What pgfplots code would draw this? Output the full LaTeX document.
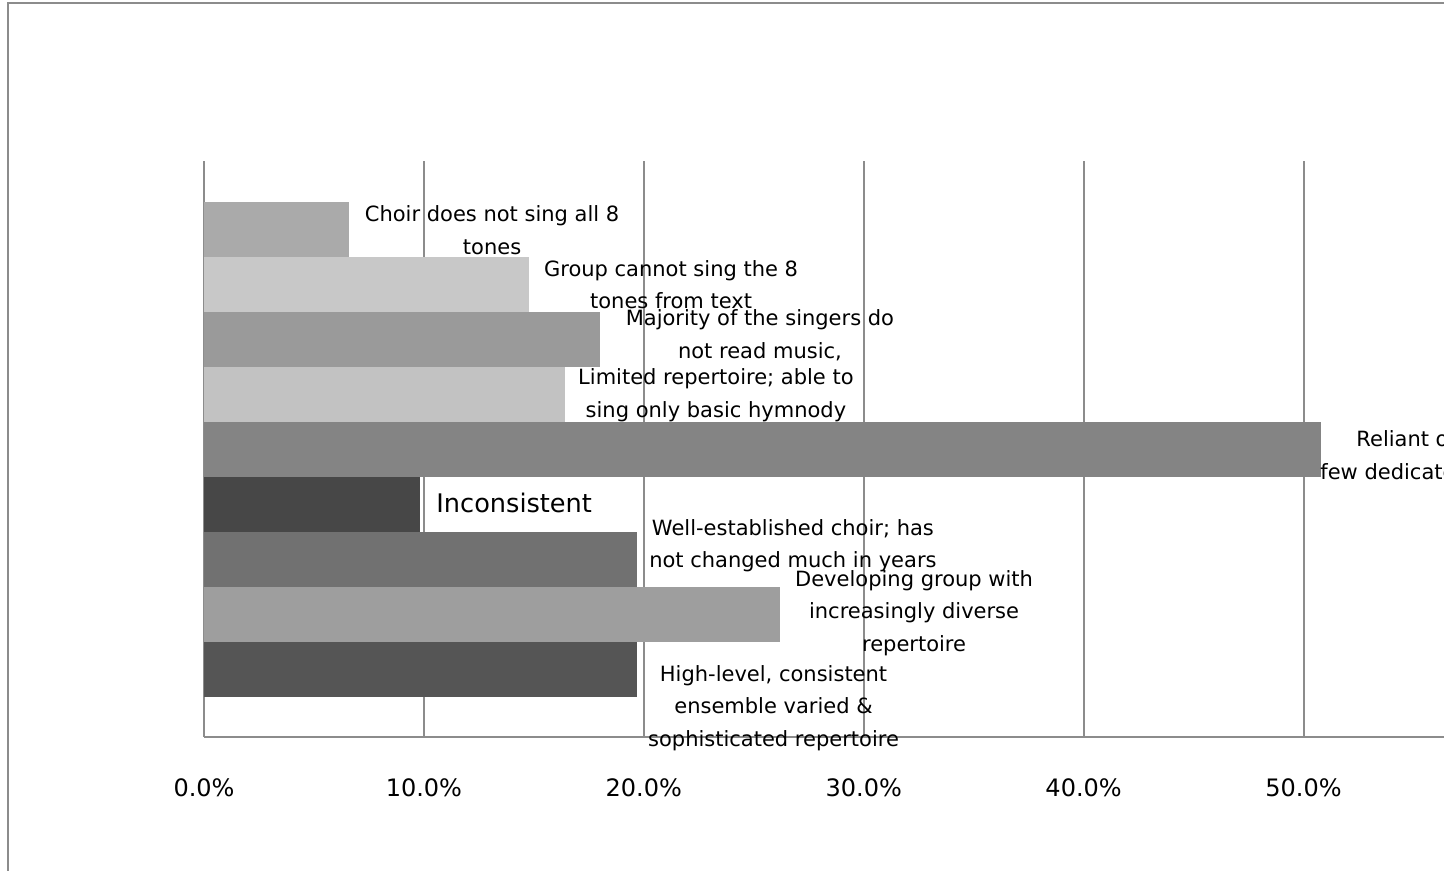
\documentclass[border=0pt]{standalone}
\usepackage{fontspec}
\setmainfont{DejaVu Sans}
\usepackage{pgfplots}
\pgfplotsset{compat=1.18}

\definecolor{barA}{HTML}{AAAAAA}
\definecolor{barB}{HTML}{C8C8C8}
\definecolor{barC}{HTML}{9A9A9A}
\definecolor{barD}{HTML}{C2C2C2}
\definecolor{barE}{HTML}{848484}
\definecolor{barF}{HTML}{474747}
\definecolor{barG}{HTML}{717171}
\definecolor{barH}{HTML}{9E9E9E}
\definecolor{barI}{HTML}{555555}
\definecolor{gridgray}{HTML}{8C8C8C}

\newcommand{\lblfont}{\fontsize{10.5pt}{16.25pt}\selectfont}

\begin{document}
\begin{tikzpicture}
\useasboundingbox (0,0) rectangle (722pt,435.5pt);
\clip (0,0) rectangle (722pt,435.5pt);
% chart area frame
\draw[gridgray, line width=1pt] (4pt,-20pt) -- (4pt,433.85pt) -- (760pt,433.85pt);
\begin{axis}[
  at={(102pt,67pt)}, anchor=south west,
  x=10.995pt, y=27.5pt,
  xmin=0, xmax=60,
  ymin=-0.227, ymax=10.245,
  axis x line*=bottom, axis y line*=left,
  axis line style={gridgray, line width=1pt},
  xmajorgrids, grid style={gridgray, line width=1pt},
  xtick={0,10,20,30,40,50},
  xticklabels={0.0\%,10.0\%,20.0\%,30.0\%,40.0\%,50.0\%},
  ytick=\empty,
  major tick length=0pt,
  xticklabel style={anchor=center, yshift=-25.5pt, font=\fontsize{12pt}{15pt}\selectfont},
  /pgf/number format/assume math mode=true,
  clip=false,
  every axis plot/.append style={xbar, draw=none, bar width=27.5pt, bar shift=0pt},
]
\addplot[fill=barA] coordinates {(6.6,9)};
\addplot[fill=barB] coordinates {(14.8,8)};
\addplot[fill=barC] coordinates {(18.0,7)};
\addplot[fill=barD] coordinates {(16.4,6)};
\addplot[fill=barE] coordinates {(50.8,5)};
\addplot[fill=barF] coordinates {(9.8,4)};
\addplot[fill=barG] coordinates {(19.7,3)};
\addplot[fill=barH] coordinates {(26.2,2)};
\addplot[fill=barI] coordinates {(19.7,1)};

\begin{scope}[every node/.style={align=center, inner sep=0pt, font=\lblfont}]
\node at (axis cs:13.10,8.99) {Choir does not sing all 8\\tones};
\node at (axis cs:21.24,8.00) {Group cannot sing the 8\\tones from text};
\node at (axis cs:25.28,7.08) {Majority of the singers do\\not read music,};
\node at (axis cs:23.28,5.99) {Limited repertoire; able to\\sing only basic hymnody};
\node[anchor=west, align=left] at (axis cs:50.75,4.86) {\hspace*{18pt}Reliant on a\\few dedicated singers};
\node[anchor=west, font=\fontsize{12.8pt}{16pt}\selectfont] at (axis cs:10.55,4.03) {Inconsistent};
\node at (axis cs:26.78,3.25) {Well-established choir; has\\not changed much in years};
\node at (axis cs:32.29,2.03) {Developing group with\\increasingly diverse\\repertoire};
\node at (axis cs:25.90,0.30) {High-level, consistent\\ensemble varied \&\\sophisticated repertoire};
\end{scope}
\end{axis}
\end{tikzpicture}
\end{document}
